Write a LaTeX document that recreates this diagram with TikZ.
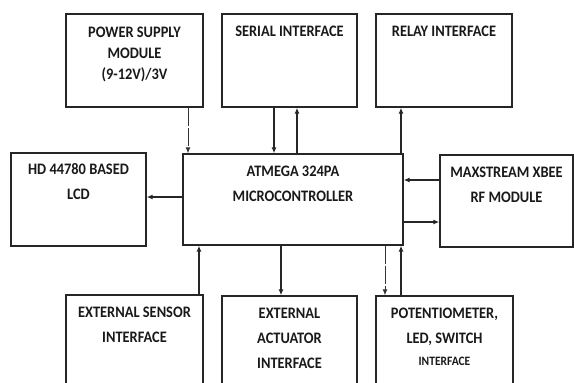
\documentclass[tikz,border=0pt]{standalone}
\usepackage{fontspec}
\setmainfont{Carlito}
\newfontfamily\lblfont{Carlito}[FakeStretch=0.9]
\usetikzlibrary{arrows.meta}
\newcommand{\tp}{\rule{0pt}{12pt}}
\begin{document}
\begin{tikzpicture}[x=1pt,y=-1pt,
  box/.style={draw=black!85, line width=1.3pt, rectangle, inner sep=0pt},
  txt/.style={anchor=north, inner sep=0pt, align=center, text=black!90,
    font=\lblfont\fontsize{16}{25}\selectfont\bfseries},
  arr/.style={draw=black!85, line width=1.2pt, -{Latex[length=6pt,width=5pt]}},
  thin arr/.style={arr, draw=black!80, line width=1pt, dash pattern=on 18pt off 2pt}]
\useasboundingbox (0,0) rectangle (574,383);
\clip (0,0) rectangle (574,383);
% boxes
\node[box, minimum width=137pt, minimum height=93pt] (power) at (134.5,60.5) {};
\node[box, minimum width=135pt, minimum height=93pt] (serial) at (289.5,60.5) {};
\node[box, minimum width=136pt, minimum height=93pt] (relay) at (444,60.5) {};
\node[box, minimum width=135pt, minimum height=93pt] (lcd) at (78.5,199.5) {};
\node[box, minimum width=220pt, minimum height=91pt] (mcu) at (293,199.5) {};
\node[box, minimum width=133pt, minimum height=92pt] (xbee) at (506.5,201) {};
\node[box, minimum width=137pt, minimum height=100pt] (sensor) at (134.5,345) {};
\node[box, minimum width=135pt, minimum height=100pt] (act) at (289.5,346) {};
\node[box, minimum width=137pt, minimum height=100pt] (pot) at (444.5,346) {};
% texts
\node[txt, font=\lblfont\fontsize{16}{21}\selectfont\bfseries] (tpower) at ([yshift=-12pt]power.north) {\tp POWER SUPPLY\\MODULE\\(9-12V)/3V};
\node[txt] (tserial) at ([yshift=-10.5pt]serial.north) {\tp SERIAL INTERFACE};
\node[txt] (trelay) at ([yshift=-10.5pt]relay.north) {\tp RELAY INTERFACE};
\node[txt] (tlcd) at ([yshift=-9.6pt]lcd.north) {\tp HD 44780 BASED\\LCD};
\node[txt] (tmcu) at ([yshift=-10.6pt]mcu.north) {\tp ATMEGA 324PA\\MICROCONTROLLER};
\node[txt] (txbee) at ([yshift=-10.6pt]xbee.north) {\tp MAXSTREAM XBEE\\RF MODULE};
\node[txt] (tsensor) at ([yshift=-10.6pt]sensor.north) {\tp EXTERNAL SENSOR\\INTERFACE};
\node[txt] (tact) at ([yshift=-10.6pt]act.north) {\tp EXTERNAL\\ACTUATOR\\INTERFACE};
\node[txt] (tpot) at ([yshift=-10.6pt]pot.north) {\tp POTENTIOMETER,\\LED, SWITCH\\[-3pt]{\fontsize{12.8}{14}\selectfont INTERFACE}};
% x positions of connectors
\coordinate (c1) at (188,0);
\coordinate (c2) at (274,0);
\coordinate (c3) at (297,0);
\coordinate (c4) at (401,0);
\coordinate (c5) at (199,0);
\coordinate (c6) at (281,0);
\coordinate (c7) at (385,0);
\coordinate (c8) at (401,0);
\coordinate (r1) at (0,197);
\coordinate (r2) at (0,180);
\coordinate (r3) at (0,222);
% connectors
\draw[thin arr] (power.south -| c1) -- (mcu.north -| c1);
\draw[arr] (serial.south -| c2) -- (mcu.north -| c2);
\draw[arr] (mcu.north -| c3) -- (serial.south -| c3);
\draw[arr] (mcu.north -| c4) -- (relay.south -| c4);
\draw[arr] (mcu.west |- r1) -- (lcd.east |- r1);
\draw[arr] (xbee.west |- r2) -- (mcu.east |- r2);
\draw[arr] (mcu.east |- r3) -- (xbee.west |- r3);
\draw[arr] (sensor.north -| c5) -- (mcu.south -| c5);
\draw[arr] (mcu.south -| c6) -- (act.north -| c6);
\draw[thin arr] (mcu.south -| c7) -- (pot.north -| c7);
\draw[arr] (pot.north -| c8) -- (mcu.south -| c8);
\end{tikzpicture}
\end{document}
